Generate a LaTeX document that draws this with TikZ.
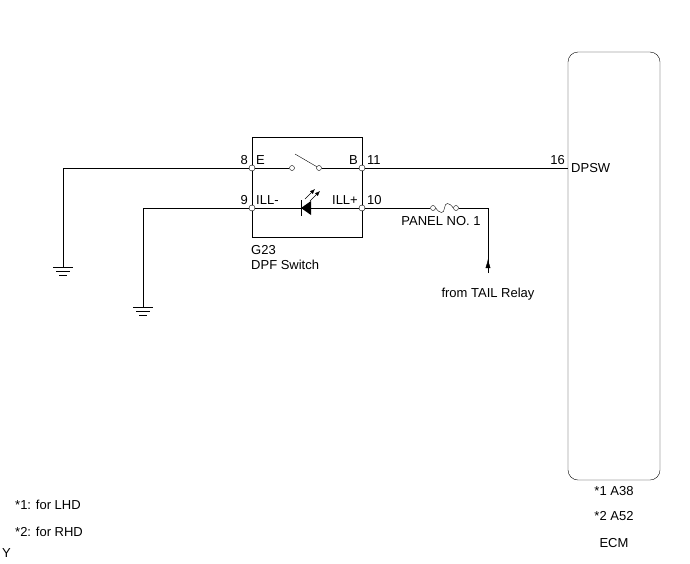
\documentclass[tikz,border=0pt]{standalone}
\usepackage{fontspec}
\setmainfont{Liberation Sans}
\usetikzlibrary{positioning,arrows.meta}
\begin{document}
\begin{tikzpicture}[x=1pt,y=-1pt,font=\fontsize{13}{15}\selectfont]
\useasboundingbox (0,0) rectangle (690,563);

\tikzset{pin/.style={circle, draw, fill=white, inner sep=0pt, minimum size=6pt}}
\tikzset{lbl/.style={inner sep=1pt}}

% ECM
\draw[rounded corners=10] (568,52) rectangle (660,480);
\node[lbl] at (614,491) {*1 A38};
\node[lbl] at (614,516) {*2 A52};
\node[lbl] at (614,543) {ECM};
\node[lbl, anchor=west] (dpsw) at (570,168) {DPSW};
\node[lbl, anchor=south east] at (566,166) {16};
\coordinate (p16) at (568,168);

% switch box
\draw (252,137) rectangle (362,237);
\node[lbl, anchor=north west] at (250,244) {G23};
\node[lbl, anchor=north west] at (250,259) {DPF Switch};

\node[pin] (p8) at (252,168) {};
\node[pin] (p9) at (252,208) {};
\node[pin] (p11) at (362,168) {};
\node[pin] (p10) at (362,208) {};
\node[lbl, anchor=south east] at (249,166) {8};
\node[lbl, anchor=south east] at (249,206) {9};
\node[lbl, anchor=south west] at (366,166) {11};
\node[lbl, anchor=south west] at (366,206) {10};
\node[lbl, anchor=south west] at (255,166) {E};
\node[lbl, anchor=south west] at (255,206) {ILL-};
\node[lbl, anchor=south east] at (359,166) {B};
\node[lbl, anchor=south east] at (359,206) {ILL+};

% switch
\node[pin, minimum size=5pt] (s1) at (292,168) {};
\node[pin, minimum size=5pt] (s2) at (319,168) {};
\draw (p8) -- (s1);
\draw (s2) -- (p11);
\draw (295,154) -- (s2);

% LED
\draw (p9) -- (p10);
\fill (301,208) -- (311,201) -- (311,215) -- cycle;
\draw (301,200) -- (301,216);
\draw[-{Latex[length=5pt,width=4pt]}] (305,199) -- (315,189);
\draw[-{Latex[length=5pt,width=4pt]}] (310,201) -- (320,191);

% wiring
\draw (p11) -- (p16);
\coordinate (g1) at (63,267);
\coordinate (g2) at (143,307);
\draw (p8) -| (g1);
\draw (p9) -| (g2);
\foreach \g in {g1,g2} {
  \draw ([xshift=-10]\g) -- ([xshift=10]\g);
  \draw ([xshift=-7,yshift=-4]\g) -- ([xshift=7,yshift=-4]\g);
  \draw ([xshift=-4,yshift=-8]\g) -- ([xshift=4,yshift=-8]\g);
}

% fuse
\node[pin, minimum size=5pt] (f1) at (433,208) {};
\node[pin, minimum size=5pt] (f2) at (456,208) {};
\draw (p10) -- (f1);
\draw (f1.east) .. controls (440,214) and (444,214) .. (444.5,208) .. controls (445,202) and (449,202) .. (f2.west);
\coordinate (c1) at (488,208);
\coordinate (t1) at (488,273);
\draw (f2) -| (t1);
\draw[-{Latex[length=9pt,width=5pt]}] (t1) -- (488,259);
\node[lbl] at (441,221) {PANEL NO. 1};
\node[lbl] at (488,294) {from TAIL Relay};

% notes
\node[lbl, anchor=west] at (14,505) {*1: for LHD};
\node[lbl, anchor=west] at (14,532) {*2: for RHD};
\node[lbl, anchor=west] at (1,553) {Y};
\end{tikzpicture}
\end{document}
